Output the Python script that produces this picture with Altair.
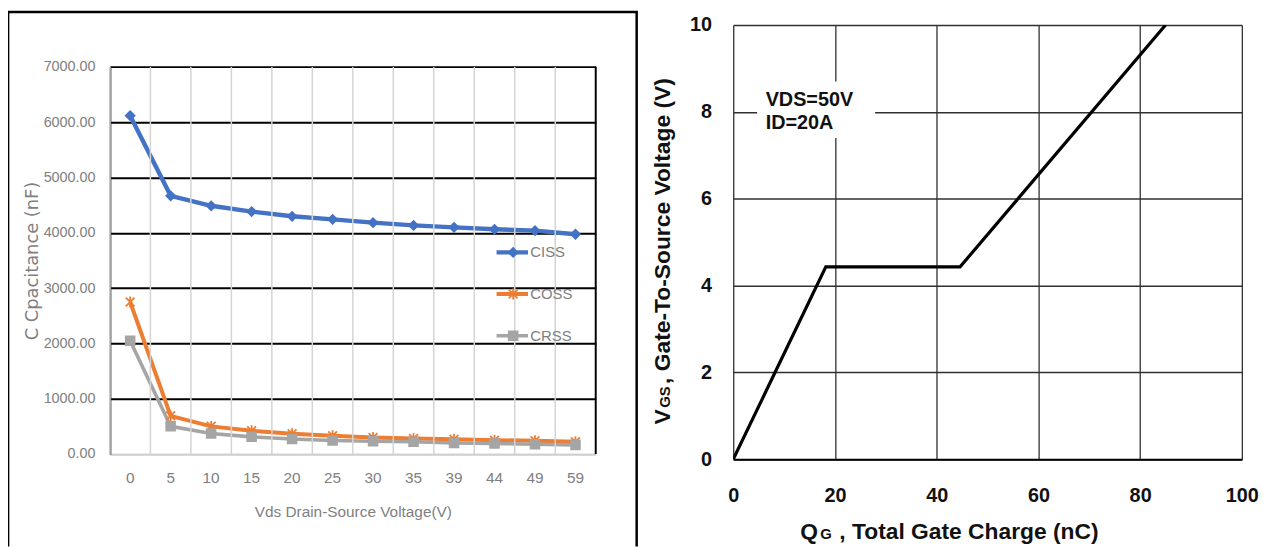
import altair as alt
import pandas as pd

# ---------------- Left panel data (capacitance vs Vds) ----------------
vds_labels = ["0", "5", "10", "15", "20", "25", "30", "35", "39", "44", "49", "59"]
ciss = [6120, 4670, 4490, 4385, 4300, 4245, 4185, 4135, 4100, 4065, 4040, 3975]
coss = [2750, 690, 500, 420, 365, 330, 300, 280, 265, 250, 240, 220]
crss = [2050, 500, 370, 310, 270, 245, 230, 220, 200, 190, 175, 165]
series_names = ["CISS", "COSS", "CRSS"]
cap_ticks = [0, 1000, 2000, 3000, 4000, 5000, 6000, 7000]

# ---------------- Right panel data (gate charge) ----------------
qg = [0, 18.2, 44.6, 85.0]
vgs = [0, 4.43, 4.43, 10.0]
qg_ticks = [0, 20, 40, 60, 80, 100]
vgs_ticks = [0, 2, 4, 6, 8, 10]
note_lines = ["VDS=50V", "ID=20A"]
note_line_y = [8.28, 7.75]

# ---------------- styles ----------------
series_colors = ["#4472C4", "#ED7D31", "#A5A5A5"]
series_widths = [4.4, 3.6, 3.8]
asterisk = "M-1,-1L1,1M-1,1L1,-1M0,-1.25L0,1.25"
series_shapes = ["diamond", asterisk, "square"]
LFONT = "Liberation Sans, Arial, sans-serif"
GRAY_TXT = "#808080"
BOLD_FONT = "Liberation Sans, Arial, sans-serif"
LW = 490
LH = 432.7           # left panel view height (plot area sits in its lower part)
L_TOP = 42.4         # pixel position of the 7000 line inside the view
RW, RH = 513, 438
one = alt.Data(values=[{"k": 1}])

# ---------------- Left panel ----------------
rows = []
for name, vals in zip(series_names, [ciss, coss, crss]):
    for i, (v, c) in enumerate(zip(vds_labels, vals)):
        rows.append({"vds": v, "idx": i, "cap": c, "series": name})
left_df = pd.DataFrame(rows)
cat_df = pd.DataFrame({"vds": vds_labels})

x_left = alt.X(
    "vds:N", sort=vds_labels, bandPosition=0.5,
    scale=alt.Scale(type="band", paddingInner=0, paddingOuter=0),
    axis=alt.Axis(
        title="Vds Drain-Source Voltage(V)", labelAngle=0,
        grid=False, ticks=False,
        domain=True, domainColor="#d0d0d0", domainWidth=1.5,
        labelFont=LFONT, labelFontSize=15.5, labelColor=GRAY_TXT, labelPadding=17,
        titleFont=LFONT, titleFontSize=15.5, titleColor=GRAY_TXT, titleFontWeight="normal",
        titleX=LW / 2, titleY=58, titleBaseline="middle", titleAlign="center",
    ),
)
y_left = alt.Y(
    "cap:Q", scale=alt.Scale(domain=[0, 7000], range=[LH, L_TOP]),
    axis=alt.Axis(
        values=cap_ticks, format=".2f", ticks=False,
        domain=True, domainColor="#404040", domainWidth=2,
        grid=True, gridWidth=2,
        gridColor={"condition": {"test": "datum.value === 0", "value": "#d0d0d0"}, "value": "#000000"},
        labelFont=LFONT, labelFontSize=14.5, labelColor=GRAY_TXT, labelPadding=15,
        title="C Cpacitance (nF)", titleFont="DejaVu Sans", titleFontSize=18,
        titleColor=GRAY_TXT, titleFontWeight="normal",
        titleX=-78, titleY=(LH + L_TOP) / 2, titleAngle=270, titleAlign="center",
        titleBaseline="middle",
    ),
)
color_scale = alt.Scale(domain=series_names, range=series_colors)
shape_scale = alt.Scale(domain=series_names, range=series_shapes)
width_scale = alt.Scale(domain=series_names, range=series_widths)

vgrid = alt.Chart(cat_df).mark_rule(color="#d4d4d4", strokeWidth=1.5).encode(
    x=alt.X("vds:N", sort=vds_labels, bandPosition=0),
    y=alt.value(L_TOP), y2=alt.value(LH),
)
lines_left = alt.Chart(left_df).mark_line().encode(
    x=x_left, y=y_left,
    color=alt.Color("series:N", scale=color_scale, legend=None),
    strokeWidth=alt.StrokeWidth("series:N", scale=width_scale, legend=None),
    order=alt.Order("idx:Q"),
)
points_left = alt.Chart(left_df).mark_point(filled=True, size=78, strokeWidth=1.8, opacity=1).encode(
    x=alt.X("vds:N", sort=vds_labels, bandPosition=0.5),
    y=alt.Y("cap:Q"),
    color=alt.Color("series:N", scale=color_scale, legend=None),
    stroke=alt.Stroke("series:N", scale=color_scale, legend=None),
    shape=alt.Shape("series:N", scale=shape_scale, legend=None),
)
data_left = alt.layer(lines_left, vgrid, points_left)

legend_df = pd.DataFrame({"series": series_names})
leg_y = alt.Y("series:N", scale=alt.Scale(type="point", domain=series_names,
                                          range=[229.4, 313.4], padding=0), axis=None)
legend_rule = alt.Chart(legend_df).mark_rule().encode(
    x=alt.value(390), x2=alt.value(421.7), y=leg_y,
    color=alt.Color("series:N", scale=color_scale, legend=None),
    strokeWidth=alt.StrokeWidth("series:N", scale=width_scale, legend=None),
)
legend_pt = alt.Chart(legend_df).mark_point(filled=True, size=78, strokeWidth=1.8, opacity=1).encode(
    x=alt.value(406.7), y=leg_y,
    color=alt.Color("series:N", scale=color_scale, legend=None),
    stroke=alt.Stroke("series:N", scale=color_scale, legend=None),
    shape=alt.Shape("series:N", scale=shape_scale, legend=None),
)
legend_txt = alt.Chart(legend_df).mark_text(
    align="left", baseline="middle", font=LFONT, fontSize=15, color=GRAY_TXT
).encode(x=alt.value(424), y=leg_y, text="series:N")
legend_left = alt.layer(legend_rule, legend_pt, legend_txt)

frame_style = dict(color="#000000", strokeWidth=2.5)
frame_left = alt.Chart(one).mark_rule(**frame_style).encode(
    x=alt.value(-102.7), y=alt.value(-13), y2=alt.value(526))
frame_top = alt.Chart(one).mark_rule(**frame_style).encode(
    x=alt.value(-103.9), x2=alt.value(532.5), y=alt.value(-13))
frame_right = alt.Chart(one).mark_rule(**frame_style).encode(
    x=alt.value(531.3), y=alt.value(-13), y2=alt.value(526))
plot_right_edge = alt.Chart(one).mark_rule(color="#000000", strokeWidth=2).encode(
    x=alt.value(LW), y=alt.value(L_TOP), y2=alt.value(LH))

left = alt.layer(
    data_left, plot_right_edge, legend_left, frame_left, frame_top, frame_right,
).resolve_scale(y="independent").properties(width=LW, height=LH)

# ---------------- Right panel ----------------
right_df = pd.DataFrame({"qg": qg, "vgs": vgs})
grid_col = "#303030"
x_right = alt.X(
    "qg:Q", scale=alt.Scale(domain=[0, 100]), title=None,
    axis=alt.Axis(values=qg_ticks, grid=True, gridColor=grid_col, gridWidth=1.3, ticks=False,
                  domain=True, domainColor="#000000", domainWidth=2, labelFlush=False,
                  labelOverlap=False, labelFont=BOLD_FONT, labelFontWeight="bold",
                  labelFontSize=20, labelColor="#111111", labelPadding=27),
)
y_right = alt.Y(
    "vgs:Q", scale=alt.Scale(domain=[0, 10]), title=None,
    axis=alt.Axis(values=vgs_ticks, grid=True, gridColor=grid_col, gridWidth=1.3, ticks=False,
                  domain=False, labelFlush=False, labelOverlap=False, labelFont=BOLD_FONT,
                  labelFontWeight="bold", labelFontSize=20, labelColor="#111111", labelPadding=22),
)
line_right = alt.Chart(right_df).mark_line(color="#000000", strokeWidth=3.2, clip=True).encode(
    x=x_right, y=y_right)

box_df = pd.DataFrame({"qg": [4.7], "qg2": [27.9], "vgs": [7.40], "vgs2": [8.70]})
note_box = alt.Chart(box_df).mark_rect(color="#ffffff").encode(
    x=alt.X("qg:Q", title=None), x2="qg2:Q", y=alt.Y("vgs:Q", title=None), y2="vgs2:Q")
note_df = pd.DataFrame({"t": note_lines, "vgs": note_line_y, "qg": [6.37, 6.37]})
note_txt = alt.Chart(note_df).mark_text(
    align="left", baseline="middle", font=BOLD_FONT, fontWeight="bold", fontSize=20, color="#111111"
).encode(x=alt.X("qg:Q", title=None), y=alt.Y("vgs:Q", title=None), text="t:N")


def piece(txt, x, y, size, angle=0):
    return alt.Chart(alt.Data(values=[{"t": txt}])).mark_text(
        align="left", baseline="alphabetic", font=BOLD_FONT, fontWeight="bold",
        fontSize=size, color="#111111", angle=angle,
    ).encode(x=alt.value(x), y=alt.value(y), text="t:N")


xt1 = piece("Q", 67.7, 518.4, 23)
xt2 = piece("G", 87.7, 518.4, 15)
xt3 = piece(", Total Gate Charge (nC)", 107, 518.4, 23)
yt1 = piece("V", -64, 403, 23, 270)
yt2 = piece("GS", -64, 386, 15, 270)
yt3 = piece(", Gate-To-Source Voltage (V)", -64, 362, 23, 270)

anchor = alt.Chart(one).mark_rule(color="#ffffff", strokeWidth=1).encode(
    x=alt.value(-88.5), x2=alt.value(-87.5), y=alt.value(2))

right = alt.layer(
    line_right, note_box, note_txt, xt1, xt2, xt3, yt1, yt2, yt3, anchor
).properties(width=RW, height=RH)

chart = alt.hconcat(left, right, spacing=5.7).properties(
    padding={"left": -3.2, "top": -0.2, "right": 0, "bottom": 0}
).configure_view(strokeWidth=0)

chart.save("out.html", embed_options={"renderer": "svg", "actions": False})
